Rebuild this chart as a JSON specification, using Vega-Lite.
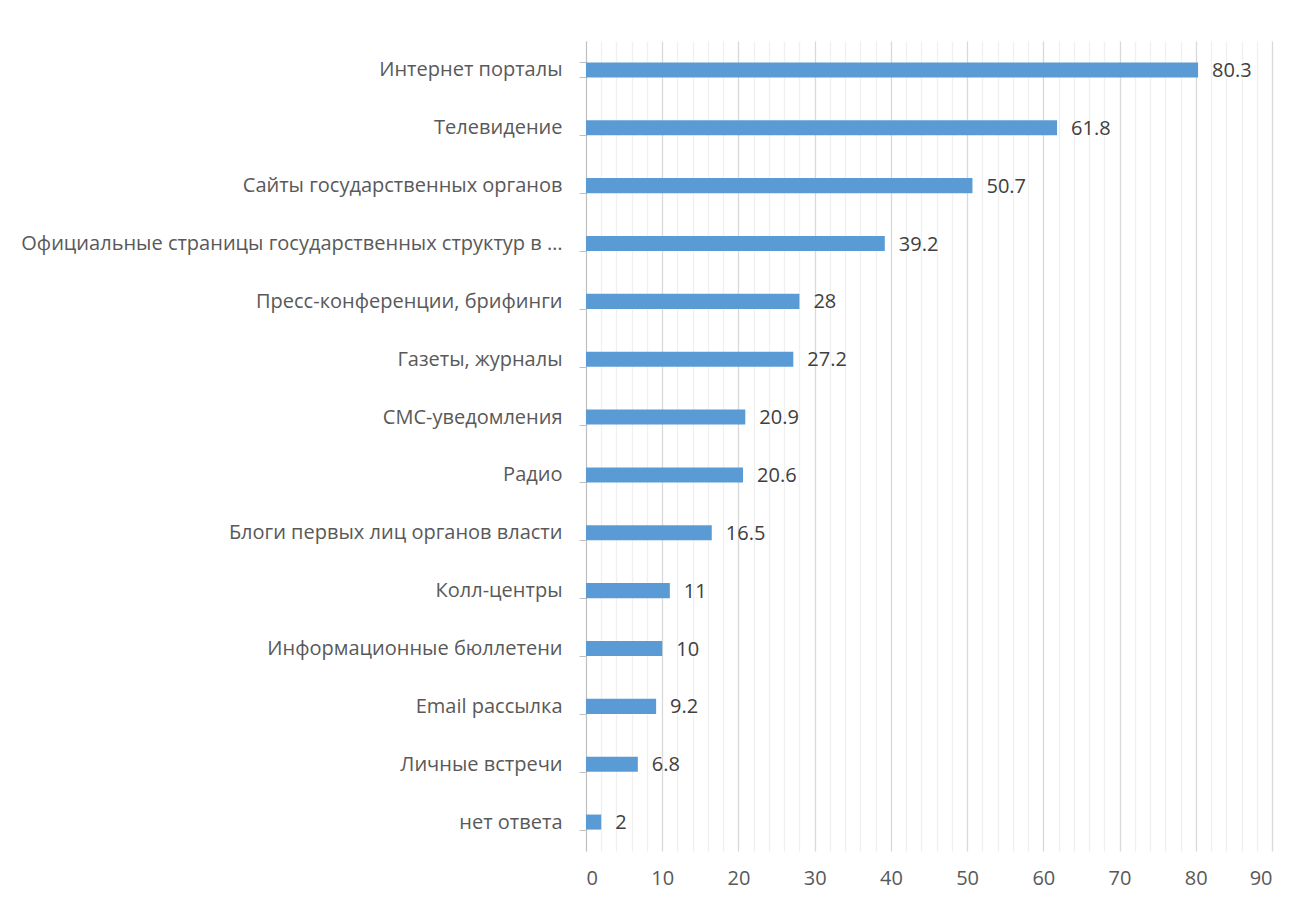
{
  "$schema": "https://vega.github.io/schema/vega-lite/v6.json",
  "autosize": "none",
  "width": 686,
  "height": 810,
  "padding": {"left": 586, "top": 41, "right": 34, "bottom": 56},
  "background": "#ffffff",
  "config": {"view": {"stroke": null}, "font": "Open Sans",
    "axis": {"labelFont": "Open Sans", "labelFontSize": 20}},
  "data": {"values": [
    {"cat": "Интернет порталы", "v": 80.3},
    {"cat": "Телевидение", "v": 61.8},
    {"cat": "Сайты государственных органов", "v": 50.7},
    {"cat": "Официальные страницы государственных структур в социальных сетях", "v": 39.2},
    {"cat": "Пресс-конференции, брифинги", "v": 28},
    {"cat": "Газеты, журналы", "v": 27.2},
    {"cat": "СМС-уведомления", "v": 20.9},
    {"cat": "Радио", "v": 20.6},
    {"cat": "Блоги первых лиц органов власти", "v": 16.5},
    {"cat": "Колл-центры", "v": 11},
    {"cat": "Информационные бюллетени", "v": 10},
    {"cat": "Email рассылка", "v": 9.2},
    {"cat": "Личные встречи", "v": 6.8},
    {"cat": "нет ответа", "v": 2}
  ]},
  "encoding": {
    "y": {"field": "cat", "type": "nominal", "sort": null, "title": null,
      "scale": {"paddingInner": 0.74, "paddingOuter": 0.37},
      "axis": {"domainColor": "#bfbfbf", "tickColor": "#bfbfbf", "tickSize": 7, "tickBand": "extent",
        "labelFontSize": 20, "labelColor": "#595959", "labelPadding": 17, "labelLimit": 542, "grid": false}},
    "x": {"field": "v", "type": "quantitative", "title": null,
      "scale": {"domain": [0, 90], "nice": false},
      "axis": {"values": [0,2,4,6,8,10,12,14,16,18,20,22,24,26,28,30,32,34,36,38,40,42,44,46,48,50,52,54,56,58,60,62,64,66,68,70,72,74,76,78,80,82,84,86,88,90],
        "labelExpr": "datum.value % 10 === 0 ? datum.label : ''",
        "grid": true,
        "gridColor": {"condition": {"test": "datum.value % 10 === 0", "value": "#d9d9d9"}, "value": "#f0f0f0"},
        "gridWidth": 1.3,
        "domain": false, "ticks": false,
        "labelFontSize": 20, "labelColor": "#595959", "labelPadding": 17}}
  },
  "layer": [
    {"mark": {"type": "bar", "color": "#5b9bd5"}},
    {"mark": {"type": "text", "align": "left", "dx": 14, "dy": 1, "fontSize": 20, "color": "#404040"},
      "encoding": {"text": {"field": "v", "type": "quantitative"}}}
  ]
}
